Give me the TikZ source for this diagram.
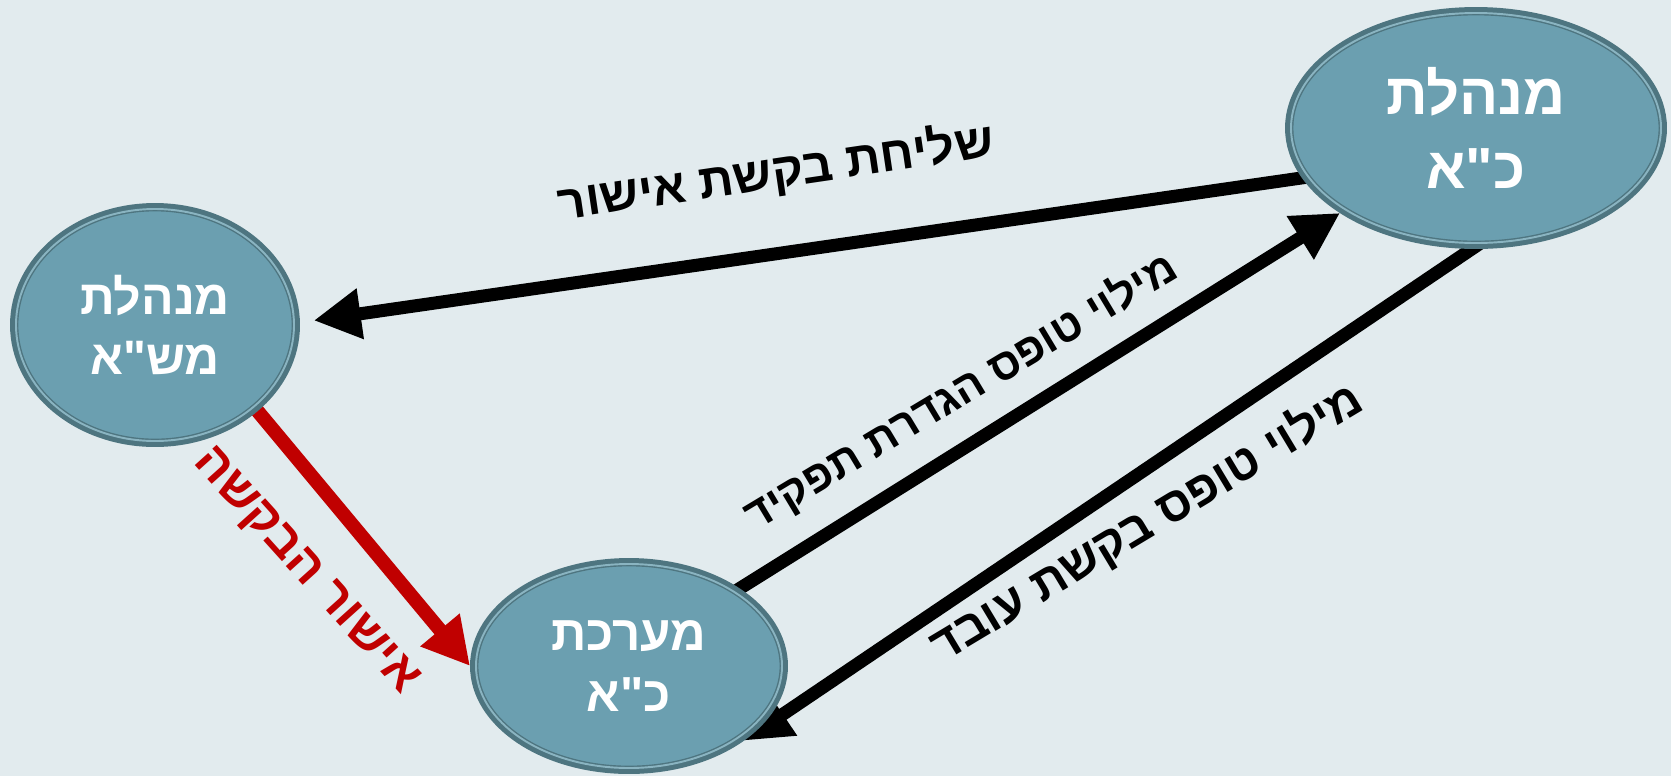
\documentclass[tikz,border=0pt]{standalone}
\usepackage{fontspec}
\setmainfont{Liberation Sans}
\newfontfamily\hebfont[Script=Hebrew]{Liberation Sans}
\TeXXeTstate=1
\usetikzlibrary{arrows.meta,shapes.geometric}

\definecolor{bgpale}{HTML}{E2EBEE}
\definecolor{ovalfill}{HTML}{6B9FB0}
\definecolor{ovaldark}{HTML}{4E7580}
\definecolor{ovallight}{HTML}{8AB4C1}
\definecolor{okred}{HTML}{C00000}

\pgfdeclarelayer{bgfill}
\pgfdeclarelayer{links}
\pgfsetlayers{bgfill,links,main}

\tikzset{
  oval/.style={ellipse, fill=ovalfill, draw=ovaldark, line width=0.8pt,
    double=ovallight, double distance=1.1pt,
    preaction={draw=ovaldark, line width=6.8pt},
    inner sep=0pt, outer sep=3.4pt, text=white, align=center},
  flow/.style={line width=0.26cm, shorten <=-0.2cm,
    -{Triangle[length=0.94cm,width=0.96cm]}},
  flowtext/.style={font=\hebfont\bfseries\fontsize{24}{28}\selectfont}
}

\begin{document}
\begin{tikzpicture}[x=1cm,y=1cm]
\useasboundingbox (0,0) rectangle (33.42,-15.52);
\begin{pgfonlayer}{bgfill}
\fill[bgpale] (0,0) rectangle (33.42,-15.52);
\end{pgfonlayer}

% the three offices
\node[oval, minimum width=7.4cm, minimum height=4.6cm,
  font=\hebfont\bfseries\fontsize{33}{42}\selectfont] (cka) at (29.52,-2.56)
  {\beginR מנהלת\endR\\\beginR כ"א\endR};
\node[oval, minimum width=5.56cm, minimum height=4.64cm,
  font=\hebfont\bfseries\fontsize{27.5}{34}\selectfont] (msha) at (3.10,-6.50)
  {\beginR מנהלת\endR\\\beginR מש"א\endR};
\node[oval, minimum width=6.12cm, minimum height=4.08cm,
  font=\hebfont\bfseries\fontsize{28}{35}\selectfont] (mkra) at (12.58,-13.32)
  {\beginR מערכת\endR\\\beginR כ"א\endR};

% connectors
\begin{pgfonlayer}{links}
\draw[flow, shorten >=0.28cm] (cka.196) -- (msha.1);
\draw[flow] (mkra.35) -- (cka.212);
\draw[flow] (cka.268) -- (mkra.327);
\draw[flow, okred, line width=0.28cm] (msha.-40) -- (mkra.180);
\end{pgfonlayer}

% labels
\node[flowtext, font=\hebfont\bfseries\fontsize{27.5}{30}\selectfont, rotate=8.4]
  (lblsend) at (15.52,-3.46) {\beginR שליחת בקשת אישור\endR};
\node[flowtext, font=\hebfont\bfseries\fontsize{25}{28}\selectfont, rotate=31]
  (lblrole) at (19.22,-7.84) {\beginR מילוי טופס הגדרת תפקיד\endR};
\node[flowtext, font=\hebfont\bfseries\fontsize{27.3}{30}\selectfont, rotate=31]
  (lblemp) at (22.94,-10.46) {\beginR מילוי טופס בקשת עובד\endR};
\node[font=\hebfont\bfseries\fontsize{28}{30}\selectfont, text=okred, rotate=-48]
  (lblok) at (6.10,-11.44) {\beginR אישור הבקשה\endR};
\end{tikzpicture}
\end{document}
